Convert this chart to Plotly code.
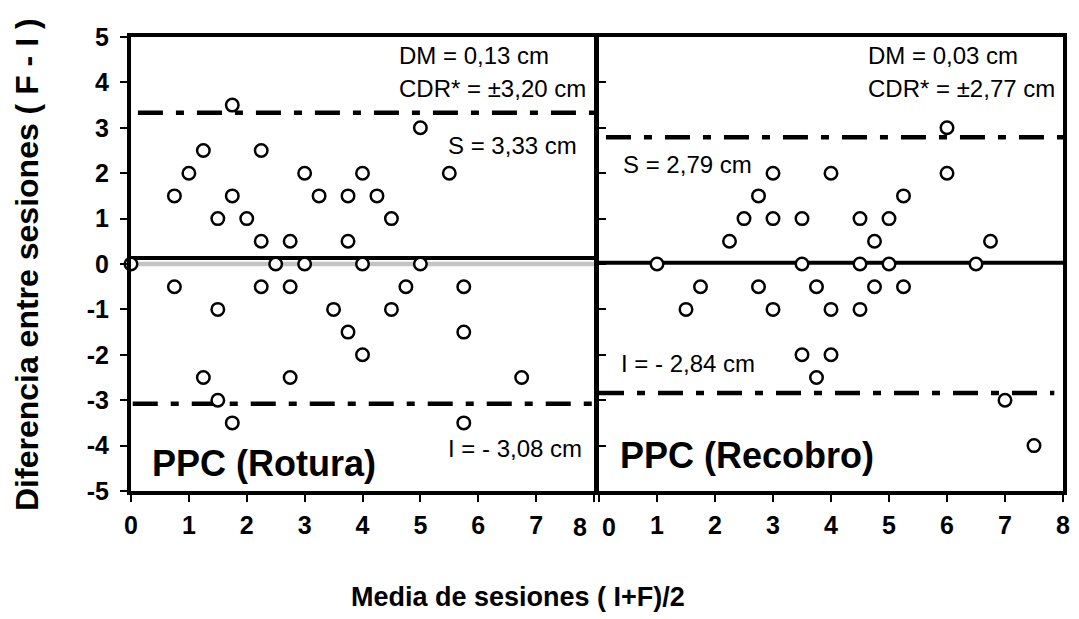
import plotly.graph_objects as go

# PPC (Rotura): media (I+F)/2 y diferencia (F - I)
rot_x = [0, 0.75, 0.75, 1, 1.25, 1.25, 1.5, 1.5, 1.5, 1.75, 1.75, 1.75, 2, 2.25, 2.25, 2.25,
         2.5, 2.75, 2.75, 2.75, 3, 3, 3.25, 3.5, 3.75, 3.75, 3.75, 4, 4, 4, 4.25, 4.5, 4.5,
         4.75, 5, 5, 5.5, 5.75, 5.75, 5.75, 6.75]
rot_y = [0, 1.5, -0.5, 2, 2.5, -2.5, 1, -1, -3, 3.5, 1.5, -3.5, 1, 2.5, 0.5, -0.5,
         0, 0.5, -0.5, -2.5, 2, 0, 1.5, -1, 1.5, 0.5, -1.5, 2, 0, -2, 1.5, 1, -1,
         -0.5, 3, 0, 2, -0.5, -1.5, -3.5, -2.5]

# PPC (Recobro)
rec_x = [1, 1.5, 1.75, 2.25, 2.5, 2.75, 2.75, 3, 3, 3, 3.5, 3.5, 3.5, 3.75, 3.75, 4, 4, 4,
         4.5, 4.5, 4.5, 4.75, 4.75, 5, 5, 5.25, 5.25, 6, 6, 6.5, 6.75, 7, 7.5]
rec_y = [0, -1, -0.5, 0.5, 1, 1.5, -0.5, 2, 1, -1, 1, 0, -2, -0.5, -2.5, 2, -1, -2,
         1, 0, -1, 0.5, -0.5, 1, 0, 1.5, -0.5, 3, 2, 0, 0.5, -3, -4]

# Estadisticos de cada panel (cm)
rot_dm, rot_cdr, rot_s, rot_i = 0.13, 3.20, 3.33, -3.08
rec_dm, rec_cdr, rec_s, rec_i = 0.03, 2.77, 2.79, -2.84

x_ticks = [0, 1, 2, 3, 4, 5, 6, 7, 8]
y_ticks = [-5, -4, -3, -2, -1, 0, 1, 2, 3, 4, 5]

W, H = 1079, 619
FONT = "Liberation Sans, Arial, sans-serif"


def fmt(v):
    return f"{v:.2f}".replace(".", ",")


marker = dict(symbol="circle", size=12.5, color="white",
              line=dict(color="black", width=2.5))

fig = go.Figure()
fig.add_trace(go.Scatter(x=rot_x, y=rot_y, mode="markers", marker=marker,
                         xaxis="x", yaxis="y", cliponaxis=False, showlegend=False))
fig.add_trace(go.Scatter(x=rec_x, y=rec_y, mode="markers", marker=marker,
                         xaxis="x2", yaxis="y2", cliponaxis=False, showlegend=False))

dashdot = "25px,13px,8px,13px"
shapes = [
    # linea de referencia en cero (panel izquierdo)
    dict(type="line", xref="x", yref="y", x0=-0.1, x1=8.05, y0=0, y1=0,
         line=dict(color="#c4c4c4", width=4.5), layer="below"),
    # diferencia media
    dict(type="line", xref="x", yref="y", x0=0, x1=8, y0=rot_dm, y1=rot_dm,
         line=dict(color="black", width=4), layer="below"),
    dict(type="line", xref="x2", yref="y2", x0=0, x1=8, y0=rec_dm, y1=rec_dm,
         line=dict(color="black", width=4), layer="below"),
    # limites superior e inferior
    dict(type="line", xref="x", yref="y", x0=0.12, x1=8, y0=rot_s, y1=rot_s,
         line=dict(color="black", width=4.5, dash=dashdot), layer="below"),
    dict(type="line", xref="x", yref="y", x0=0.03, x1=8, y0=rot_i, y1=rot_i,
         line=dict(color="black", width=4.5, dash=dashdot), layer="below"),
    dict(type="line", xref="x2", yref="y2", x0=0.12, x1=8, y0=rec_s, y1=rec_s,
         line=dict(color="black", width=4.5, dash=dashdot), layer="below"),
    dict(type="line", xref="x2", yref="y2", x0=0.0, x1=7.85, y0=rec_i, y1=rec_i,
         line=dict(color="black", width=4.5, dash=dashdot), layer="below"),
]

txt = dict(family=FONT, size=24, color="black")
big = dict(family=FONT, size=36, color="black", weight="bold")
ann = []


def label(text, xr, yr, x, y, font):
    ann.append(dict(text=text, xref=xr, yref=yr, x=x, y=y, xanchor="left",
                    yanchor="middle", showarrow=False, font=font))


label(f"DM = {fmt(rot_dm)} cm", "x", "y", 4.6, 4.585, txt)
label(f"CDR* = ±{fmt(rot_cdr)} cm", "x", "y", 4.6, 3.87, txt)
label(f"S = {fmt(rot_s)} cm", "x", "y", 5.44, 2.6, txt)
label(f"I = - {fmt(abs(rot_i))} cm", "x", "y", 5.44, -4.06, txt)
label("PPC (Rotura)", "x", "y", 0.33, -4.39, big)

label(f"DM = {fmt(rec_dm)} cm", "x2", "y2", 4.6, 4.585, txt)
label(f"CDR* = ±{fmt(rec_cdr)} cm", "x2", "y2", 4.6, 3.87, txt)
label(f"S = {fmt(rec_s)} cm", "x2", "y2", 0.38, 2.2, txt)
label(f"I = - {fmt(abs(rec_i))} cm", "x2", "y2", 0.35, -2.2, txt)
label("PPC (Recobro)", "x2", "y2", 0.33, -4.21, big)

TICK_SIZE = 25
tickfont = dict(family=FONT, size=TICK_SIZE, color="black", weight="bold")

# etiquetas de los extremos compartidos entre paneles
ann.append(dict(text="8", xref="paper", yref="paper", x=580 / W, y=1 - 527 / H,
                xanchor="center", yanchor="middle", showarrow=False, font=tickfont))
ann.append(dict(text="0", xref="paper", yref="paper", x=609 / W, y=1 - 527 / H,
                xanchor="center", yanchor="middle", showarrow=False, font=tickfont))

# titulos de ejes
ann.append(dict(text="Media de sesiones ( I+F)/2", xref="paper", yref="paper",
                x=518 / W, y=1 - 597 / H, xanchor="center", yanchor="middle",
                showarrow=False,
                font=dict(family=FONT, size=27, color="black", weight="bold")))
ann.append(dict(text="Diferencia entre sesiones ( F - I )", xref="paper", yref="paper",
                x=27 / W, y=1 - 265 / H, xanchor="center", yanchor="middle",
                textangle=-90, showarrow=False,
                font=dict(family=FONT, size=32, color="black", weight="bold")))

ydom = [1 - 491 / H, 1 - 37 / H]
common_x = dict(range=[0, 8], tickvals=x_ticks, ticks="outside", ticklen=7, tickwidth=2,
                tickcolor="black", showline=True, linewidth=4, linecolor="black",
                mirror=True, showgrid=False, zeroline=False, tickfont=tickfont,
                ticklabelstandoff=2, automargin=False, fixedrange=True)
common_y = dict(range=[-5, 5], tickvals=y_ticks, ticklen=7, tickwidth=2,
                tickcolor="black", showline=True, linewidth=4, linecolor="black",
                mirror=True, showgrid=False, zeroline=False, tickfont=tickfont,
                domain=ydom, automargin=False, fixedrange=True)

fig.update_layout(
    width=W, height=H, autosize=False,
    margin=dict(l=0, r=0, t=0, b=0, pad=0, autoexpand=False),
    paper_bgcolor="white", plot_bgcolor="white",
    xaxis=dict(domain=[131 / W, 594 / W], anchor="y",
               ticktext=[str(v) for v in x_ticks[:-1]] + [""], **common_x),
    xaxis2=dict(domain=[599 / W, 1063 / W], anchor="y2",
                ticktext=[""] + [str(v) for v in x_ticks[1:]], **common_x),
    yaxis=dict(anchor="x", ticks="outside", ticklabelstandoff=6,
               ticktext=[str(v) for v in y_ticks], **common_y),
    yaxis2=dict(anchor="x2", ticks="inside", showticklabels=False, **common_y),
    shapes=shapes,
    annotations=ann,
    font=dict(family=FONT, color="black"),
)

fig.write_html("out.html")
